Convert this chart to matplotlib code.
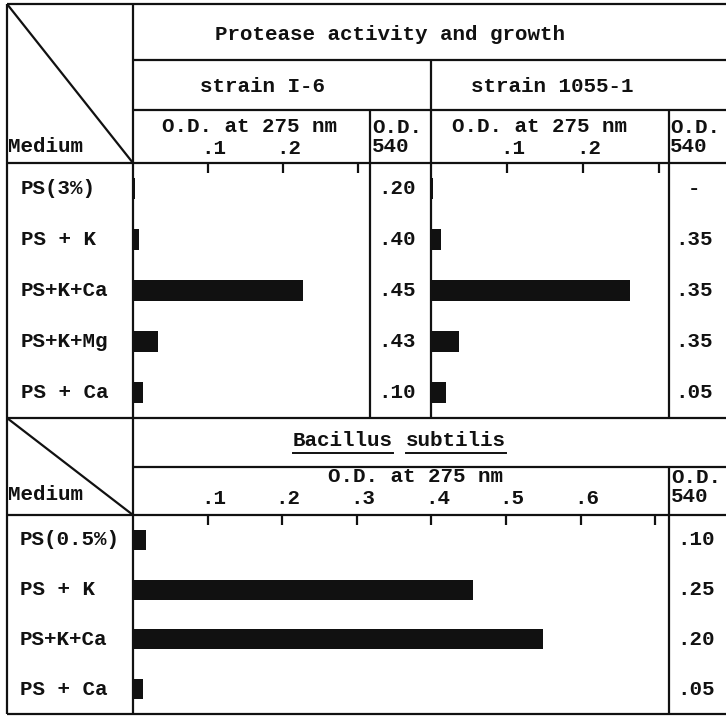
import matplotlib
matplotlib.use('Agg')
import matplotlib.pyplot as plt
from matplotlib.transforms import ScaledTranslation, blended_transform_factory

# ---------------- data ----------------
top_media = ['PS(3%)', 'PS + K', 'PS+K+Ca', 'PS+K+Mg', 'PS + Ca']
i6_od275 = [0.003, 0.008, 0.227, 0.033, 0.013]
i6_od540 = ['.20', '.40', '.45', '.43', '.10']
s1055_od275 = [0.003, 0.013, 0.262, 0.037, 0.020]
s1055_od540 = ['-', '.35', '.35', '.35', '.05']

bs_media = ['PS(0.5%)', 'PS + K', 'PS+K+Ca', 'PS + Ca']
bs_od275 = [0.017, 0.456, 0.550, 0.013]
bs_od540 = ['.10', '.25', '.20', '.05']

top_ticks = [0.1, 0.2, 0.3]
top_ticklabels = ['.1', '.2', '']
bs_ticks = [0.1, 0.2, 0.3, 0.4, 0.5, 0.6, 0.7]
bs_ticklabels = ['.1', '.2', '.3', '.4', '.5', '.6', '']

# ---------------- layout ----------------
W, H = 726, 717
fig = plt.figure(figsize=(W / 100, H / 100), dpi=100)
FONT = dict(family=['Liberation Mono', 'DejaVu Sans Mono'], weight='bold', size=15)
INK = '#111111'
LW = 1.6


def add_ax(x0, x1, y0, y1):
    return fig.add_axes([x0 / W, 1 - y1 / H, (x1 - x0) / W, (y1 - y0) / H])


def bar_axis(x0, x1, y0, y1, xmax, n, values, ticks, ticklabels, pad):
    ax = add_ax(x0, x1, y0, y1)
    ax.set_xlim(0, xmax)
    ax.set_ylim(n - 0.5, -0.5)
    ax.barh(range(n), values, height=0.4, left=0, color=INK, edgecolor='none')
    for s in ax.spines.values():
        s.set_visible(False)
    ax.patch.set_alpha(0)
    ax.set_yticks([])
    ax.xaxis.tick_top()
    ax.set_xticks(ticks)
    ax.set_xticklabels(ticklabels, fontdict=FONT)
    ax.tick_params(axis='x', direction='in', length=7, width=1.6, color=INK,
                   pad=pad, labelcolor=INK)
    off = ScaledTranslation(6 / 100, 0, fig.dpi_scale_trans)
    for lab in ax.get_xticklabels():
        lab.set_transform(lab.get_transform() + off)
    return ax


a1 = bar_axis(133, 370, 163, 418, 0.316, len(top_media), i6_od275, top_ticks, top_ticklabels, 3.5)
a2 = bar_axis(431, 669, 163, 418, 0.313, len(top_media), s1055_od275, top_ticks, top_ticklabels, 3.5)
a3 = bar_axis(133, 669, 515, 714, 0.7185, len(bs_media), bs_od275, bs_ticks, bs_ticklabels, 5)

# overlay for table rules and text
ov = fig.add_axes([0, 0, 1, 1], zorder=5)
ov.set_xlim(0, W)
ov.set_ylim(H, 0)
ov.axis('off')
ov.patch.set_alpha(0)

rules = [
    ((7, 726), (4, 4)), ((7, 7), (4, 714)), ((7, 726), (714, 714)),
    ((133, 133), (4, 714)),
    ((133, 726), (60, 60)), ((133, 726), (110, 110)),
    ((7, 726), (163, 163)), ((7, 726), (418, 418)),
    ((133, 726), (467, 467)), ((7, 726), (515, 515)),
    ((431, 431), (60, 418)), ((370, 370), (110, 418)), ((669, 669), (110, 418)),
    ((669, 669), (467, 714)),
    ((7, 133), (4, 163)), ((7, 133), (418, 515)),
]
for xs, ys in rules:
    ov.plot(xs, ys, color=INK, lw=LW, solid_capstyle='butt')


def t(x, y, s, ha='center', va='center', **kw):
    return ov.text(x, y, s, ha=ha, va=va, color=INK, **FONT, **kw)


t(390, 35, 'Protease activity and growth')
t(262, 86, 'strain I-6')
t(552, 86, 'strain 1055-1')
t(250, 127, 'O.D. at 275 nm')
t(540, 127, 'O.D. at 275 nm')
t(372, 137, 'O.D.\n540', ha='left', linespacing=1.05)
t(670, 137, 'O.D.\n540', ha='left', linespacing=1.05)
t(8, 146, 'Medium', ha='left')
t(8, 494, 'Medium', ha='left')
t(416, 477, 'O.D. at 275 nm')
t(671, 487, 'O.D.\n540', ha='left', linespacing=1.05)
bac = t(293, 441, 'Bacillus', ha='left')
sub = t(406, 441, 'subtilis', ha='left')

# row labels and O.D. 540 values, placed on the bar axes' row positions
tr_top = blended_transform_factory(ov.transData, a1.transData)
for i, m in enumerate(top_media):
    ov.text(21, i, m, transform=tr_top, ha='left', va='center', color=INK, **FONT)
    ov.text(397, i, i6_od540[i], transform=tr_top, ha='center', va='center', color=INK, **FONT)
    ov.text(694, i, s1055_od540[i], transform=tr_top, ha='center', va='center', color=INK, **FONT)

tr_bs = blended_transform_factory(ov.transData, a3.transData)
for i, m in enumerate(bs_media):
    ov.text(20, i, m, transform=tr_bs, ha='left', va='center', color=INK, **FONT)
    ov.text(696, i, bs_od540[i], transform=tr_bs, ha='center', va='center', color=INK, **FONT)

# underline the species name
fig.canvas.draw()
r = fig.canvas.get_renderer()
inv = ov.transData.inverted()
for txt in (bac, sub):
    bb = txt.get_window_extent(r)
    (x0, _), (x1, _) = inv.transform([(bb.x0, bb.y0), (bb.x1, bb.y0)])
    ov.plot([x0, x1], [453, 453], color=INK, lw=1.4)

fig.savefig('out.png', dpi=100, facecolor='white')
